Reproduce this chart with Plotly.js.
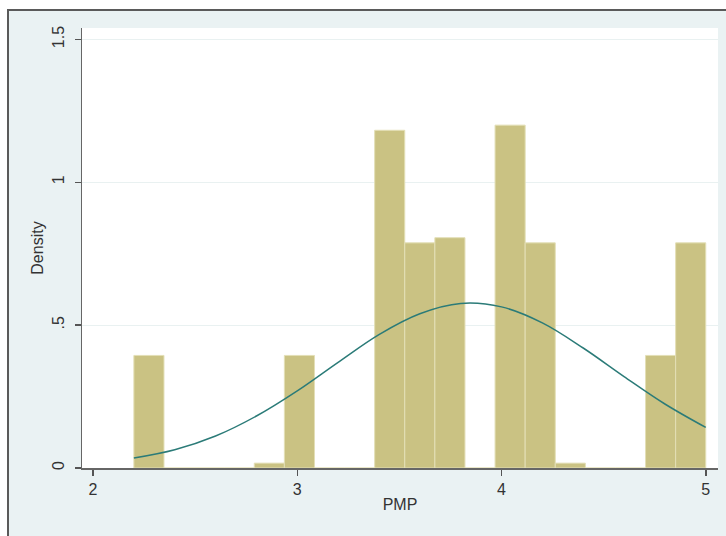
<!DOCTYPE html>
<html>
<head>
<meta charset="utf-8">
<script src="https://cdn.plot.ly/plotly-3.0.1.min.js"></script>
<style>
  html, body { margin: 0; padding: 0; background: #ffffff; overflow: hidden; width: 726px; height: 536px; }
  #frame { position: absolute; left: 7px; top: 9px; width: 719px; height: 527px;
           border-top: 2px solid #5a5a5a; border-left: 2px solid #5a5a5a; background: #eaf2f3; }
  #plot { position: absolute; left: 0; top: 0; width: 719px; height: 527px; }
</style>
</head>
<body>
<div id="frame"><div id="plot"></div></div>
<script>
// Histogram bins (start, width) and densities
const binStart = 2.2;
const binWidth = 0.14737;
const densities = [0.394, 0, 0, 0, 0.017, 0.394, 0, 0, 1.182, 0.788, 0.806, 0, 1.200, 0.788, 0.017, 0, 0, 0.394, 0.788];

// Normal density overlay
const curveX = [2.2, 2.4, 2.6, 2.8, 3.0, 3.2, 3.4, 3.6, 3.8, 4.0, 4.2, 4.4, 4.6, 4.8, 5.0];
const curveY = [0.035, 0.064, 0.112, 0.182, 0.270, 0.370, 0.467, 0.540, 0.576, 0.564, 0.508, 0.420, 0.320, 0.224, 0.142];

// Axis ticks
const xTicks = [2, 3, 4, 5];
const xTickText = ['2', '3', '4', '5'];
const yTicks = [0, 0.5, 1, 1.5];
const yTickText = ['0', '.5', '1', '1.5'];

const centers = densities.map((d, i) => binStart + (i + 0.5) * binWidth);

const barTrace = {
  type: 'bar',
  x: centers,
  y: densities,
  width: densities.map(() => binWidth),
  marker: { color: '#cac283', line: { color: '#e3dfb6', width: 1 } },
  hoverinfo: 'x+y'
};

const curveTrace = {
  type: 'scatter',
  mode: 'lines',
  x: curveX,
  y: curveY,
  line: { color: '#2b7b78', width: 1.5, shape: 'spline' }
};

const font = { family: 'Liberation Sans, Arial, sans-serif', size: 16, color: '#333333' };

const layout = {
  width: 719,
  height: 527,
  margin: { l: 73, r: 10, t: 17, b: 70 },
  paper_bgcolor: 'rgba(0,0,0,0)',
  plot_bgcolor: '#ffffff',
  showlegend: false,
  bargap: 0,
  font: font,
  xaxis: {
    range: [1.946, 5.06],
    tickvals: xTicks,
    ticktext: xTickText,
    ticks: 'outside',
    ticklen: 6,
    tickwidth: 1.5,
    tickcolor: '#555555',
    showline: true,
    linecolor: '#666666',
    linewidth: 1.5,
    showgrid: false,
    zeroline: false,
    tickfont: font,
    title: { text: 'PMP', font: font, standoff: 2 }
  },
  yaxis: {
    range: [0, 1.54],
    tickvals: yTicks,
    ticktext: yTickText,
    tickangle: -90,
    ticks: 'outside',
    ticklen: 6,
    tickwidth: 1.5,
    tickcolor: '#555555',
    ticklabelstandoff: 4,
    showline: true,
    linecolor: '#666666',
    linewidth: 1.5,
    showgrid: true,
    gridcolor: '#e9f1f1',
    gridwidth: 1,
    zeroline: false,
    tickfont: font,
    title: { text: 'Density', font: font, standoff: 2 }
  }
};

Plotly.newPlot('plot', [barTrace, curveTrace], layout, { displayModeBar: false, staticPlot: true });
</script>
</body>
</html>
